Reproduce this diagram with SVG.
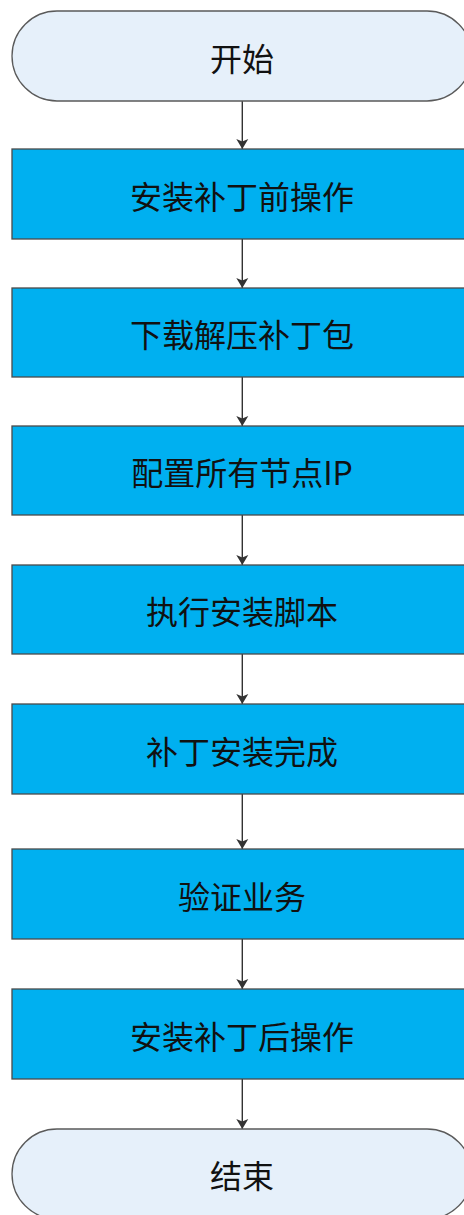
<svg xmlns="http://www.w3.org/2000/svg" width="464" height="1215" viewBox="0 0 464 1215">
<style>
.term{fill:#E6F0FA;stroke:#5a5a5a;stroke-width:1.3}
.proc{fill:#00B0F0;stroke:#4a4a4a;stroke-width:1.3}
.lbl{font-family:"Microsoft YaHei","Noto Sans CJK SC",sans-serif;font-size:32px;fill:#111;text-anchor:middle;dominant-baseline:central}
.conn{stroke:#333;stroke-width:1.4;fill:none;marker-end:url(#ah)}
</style>
<defs>
<marker id="ah" markerUnits="userSpaceOnUse" markerWidth="12" markerHeight="14" viewBox="0 0 12 14" refX="11" refY="7" orient="auto">
<path d="M1,1 L11,7 L1,13 L3.5,7 Z" fill="#333"/>
</marker>
</defs>
<rect width="464" height="1215" fill="#fff"/>
<g id="connectors">
<line class="conn" x1="242.3" y1="101" x2="242.3" y2="149"/>
<line class="conn" x1="242.3" y1="239" x2="242.3" y2="288"/>
<line class="conn" x1="242.3" y1="377" x2="242.3" y2="426"/>
<line class="conn" x1="242.3" y1="515" x2="242.3" y2="565"/>
<line class="conn" x1="242.3" y1="654" x2="242.3" y2="704"/>
<line class="conn" x1="242.3" y1="794" x2="242.3" y2="849"/>
<line class="conn" x1="242.3" y1="939" x2="242.3" y2="989"/>
<line class="conn" x1="242.3" y1="1079" x2="242.3" y2="1129"/>
</g>
<g id="start"><rect class="term" x="12" y="11" width="460" height="90" rx="45" ry="45"/><text class="lbl" x="242" y="57">开始</text></g>
<g id="step1"><rect class="proc" x="12" y="149" width="460" height="90"/><text class="lbl" x="242" y="195">安装补丁前操作</text></g>
<g id="step2"><rect class="proc" x="12" y="288" width="460" height="89"/><text class="lbl" x="242" y="333">下载解压补丁包</text></g>
<g id="step3"><rect class="proc" x="12" y="426" width="460" height="89"/><text class="lbl" x="242" y="471">配置所有节点IP</text></g>
<g id="step4"><rect class="proc" x="12" y="565" width="460" height="89"/><text class="lbl" x="242" y="610">执行安装脚本</text></g>
<g id="step5"><rect class="proc" x="12" y="704" width="460" height="90"/><text class="lbl" x="242" y="750">补丁安装完成</text></g>
<g id="step6"><rect class="proc" x="12" y="849" width="460" height="90"/><text class="lbl" x="242" y="895">验证业务</text></g>
<g id="step7"><rect class="proc" x="12" y="989" width="460" height="90"/><text class="lbl" x="242" y="1035">安装补丁后操作</text></g>
<g id="end"><rect class="term" x="12" y="1129" width="460" height="90" rx="45" ry="45"/><text class="lbl" x="242" y="1174">结束</text></g>
</svg>
